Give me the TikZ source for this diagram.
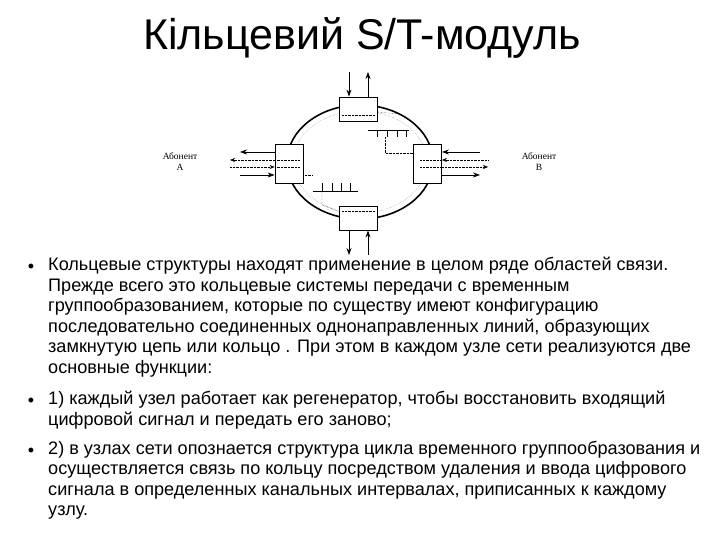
\documentclass[tikz,border=0pt]{standalone}
\usepackage{fontspec}
\setmainfont{Liberation Sans}
\newfontfamily\serifA{Liberation Serif}
\usetikzlibrary{arrows.meta}
\begin{document}
\begin{tikzpicture}[x=1pt,y=-1pt,
  box/.style={draw,thick,fill=white,inner sep=0},
  sol/.style={thick,-{Stealth[length=7pt,width=5pt]}},
  dot/.style={densely dotted,-{Stealth[length=5pt,width=4pt]}},
  lbl/.style={font=\serifA\fontsize{9.5}{11}\selectfont,align=center},
  bul/.style={font=\fontsize{18}{20}\selectfont},
  body/.style={anchor=north west,align=left,inner sep=0,font=\fontsize{18.1}{20.5}\selectfont}]
\useasboundingbox (0,0) rectangle (720,540);
\node (title) at (362,38) {\fontsize{43}{46}\selectfont Кільцевий S/T-модуль};
% ring
\draw[line width=1.6pt] (360,162) ellipse [x radius=73, y radius=57];
\draw[gray,densely dotted] (360,162) ellipse [x radius=67, y radius=51];
% ladders
\draw[thick] (368,130) -- (409,130);
\foreach \x in {377,387,397,406} \draw[thick] (\x,130) -- (\x,137);
\draw[thick] (313,191) -- (358,191);
\foreach \x in {322,332,341,350} \draw[thick] (\x,191) -- (\x,183);
\draw[densely dotted] (385,137) -- (385,153) -- (420,153);
\draw[densely dotted] (322,191) -- (322,205) -- (340,212);
\draw[densely dotted] (295,175) -- (313,175);
\draw[densely dotted] (377,112) -- (400,114);
% boxes
\node[box,minimum width=38,minimum height=24] (top) at (358,109) {};
\node[box,minimum width=38,minimum height=24] (bot) at (358,218) {};
\node[box,minimum width=28,minimum height=39] (left) at (289,163.5) {};
\node[box,minimum width=28,minimum height=39] (right) at (427.5,163.5) {};
\draw[densely dotted] ([xshift=2]left.west|-0,160) -- (300,160);
\draw[densely dotted] ([xshift=2]left.west|-0,167) -- (300,167);
\draw[densely dotted] (420,160) -- ([xshift=-2]right.east|-0,160);
\draw[densely dotted] (420,167) -- ([xshift=-2]right.east|-0,167);
\draw[densely dotted] (342,115) -- (375,115);
\draw[densely dotted] (342,211) -- (375,211);
% coordinates for free ends
\coordinate (t1) at (349,72); \coordinate (t2) at (368,72);
\coordinate (b1) at (349,255); \coordinate (b2) at (368,255);
\coordinate (l1) at (240,152); \coordinate (l2) at (230,160);
\coordinate (l3) at (230,167); \coordinate (l4) at (240,175);
\coordinate (r1) at (480,152); \coordinate (r2) at (488,160);
\coordinate (r3) at (488,167); \coordinate (r4) at (480,175);
\draw[sol] (t1) -- (t1|-top.north);
\draw[sol] (t2|-top.north) -- (t2);
\draw[sol] (b1|-bot.south) -- (b1);
\draw[sol] (b2) -- (b2|-bot.south);
\draw[sol] (left.west|-l1) -- (l1);
\draw[dot] (left.west|-l2) -- (l2);
\draw[dot] (l3) -- (left.west|-l3);
\draw[sol] (l4) -- (left.west|-l4);
\draw[sol] (r1) -- (right.east|-r1);
\draw[dot] (r2) -- (right.east|-r2);
\draw[dot] (right.east|-r3) -- (r3);
\draw[sol] (right.east|-r4) -- (r4);
\node[lbl] (aa) at (180,162) {Абонент\\А};
\node[lbl] (ab) at (539,162) {Абонент\\В};
% text
\node[bul] (d1) at (31,268) {•};
\node[bul] (d2) at (31,402) {•};
\node[bul] (d3) at (31,452) {•};
\node[body] (p1) at (48,257) {Кольцевые структуры находят применение в целом ряде областей связи.\\
Прежде всего это кольцевые системы передачи с временным\\
группообразованием, которые по существу имеют конфигурацию\\
последовательно соединенных однонаправленных линий, образующих\\
замкнутую цепь или кольцо . При этом в каждом узле сети реализуются две\\
основные функции:};
\node[body] (p2) at (48,391) {1) каждый узел работает как регенератор, чтобы восстановить входящий\\
цифровой сигнал и передать его заново;};
\node[body] (p3) at (48,441) {2) в узлах сети опознается структура цикла временного группообразования и\\
осуществляется связь по кольцу посредством удаления и ввода цифрового\\
сигнала в определенных канальных интервалах, приписанных к каждому\\
узлу.};
\end{tikzpicture}
\end{document}
